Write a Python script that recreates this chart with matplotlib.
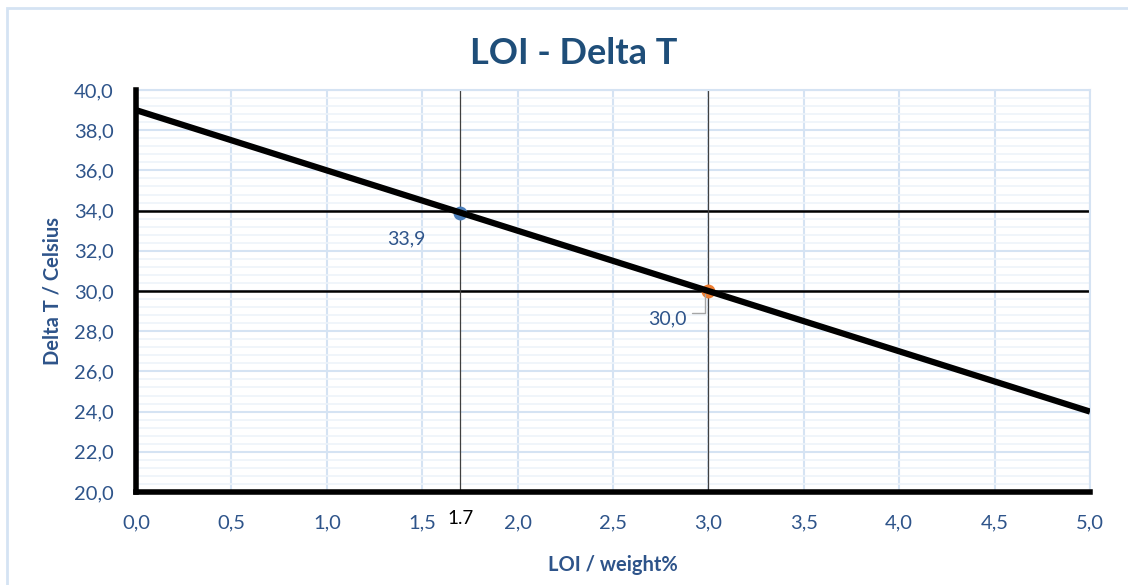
import matplotlib.pyplot as plt
from matplotlib.patches import Rectangle
from matplotlib.ticker import MultipleLocator, FuncFormatter

# data
line_x = [0.0, 5.0]
line_y = [39.0, 24.0]
pt_x = [1.7, 3.0]
pt_y = [33.9, 30.0]
pt_colors = ['#4A7EBB', '#ED7D31']
pt_labels = ['33,9', '30,0']
hlines_y = [34.0, 30.0]
vlines_x = [1.7, 3.0]

blue = '#2E548A'
plt.rcParams['font.family'] = ['Lato', 'DejaVu Sans']

fig = plt.figure(figsize=(11.28, 5.85), dpi=100)
ax = fig.add_axes([136/1128, 1-492/585, (1090-136)/1128, (492-90)/585])

# outer chart border (light blue)
fig.patches.append(Rectangle((7/1128, -0.1), 1.2, 1-8/585+0.1, transform=fig.transFigure,
                             fill=False, edgecolor='#D5E3F3', linewidth=2))

ax.set_xlim(0, 5)
ax.set_ylim(20, 40)
ax.xaxis.set_major_locator(MultipleLocator(0.5))
ax.yaxis.set_major_locator(MultipleLocator(2))
ax.yaxis.set_minor_locator(MultipleLocator(0.4))
fmt = FuncFormatter(lambda v, p: ('%.1f' % v).replace('.', ','))
ax.xaxis.set_major_formatter(fmt)
ax.yaxis.set_major_formatter(fmt)

ax.grid(which='major', color='#D5E3F3', linewidth=1.5, zorder=0)
ax.grid(which='minor', axis='y', color='#EDF3FA', linewidth=1.2, zorder=0)
ax.tick_params(which='both', length=0)
ax.tick_params(axis='both', labelsize=14.5, labelcolor=blue)
ax.tick_params(axis='x', pad=16)
ax.tick_params(axis='y', pad=16)

for s in ['top', 'right']:
    ax.spines[s].set_color('#D5E3F3')
    ax.spines[s].set_linewidth(1.5)
for s in ['left', 'bottom']:
    ax.spines[s].set_color('black')
    ax.spines[s].set_linewidth(4)
    ax.spines[s].set_zorder(5)

for y in hlines_y:
    ax.axhline(y, color='black', linewidth=1.8, zorder=2)
for x in vlines_x:
    ax.axvline(x, color='#404040', linewidth=0.9, zorder=2)

for x, y, c in zip(pt_x, pt_y, pt_colors):
    ax.plot(x, y, 'o', color=c, markersize=9, zorder=3)

ax.plot(line_x, line_y, color='black', linewidth=4.5, zorder=4, solid_capstyle='butt')

ax.annotate(pt_labels[0], (pt_x[0], pt_y[0]), xytext=(-39, -19), textcoords='offset points',
            fontsize=14, color=blue, ha='center', va='center')
ax.annotate(pt_labels[1], (pt_x[1], pt_y[1]), xytext=(-29.5, -20), textcoords='offset points',
            fontsize=14, color=blue, ha='center', va='center')
# leader line for second label
ax.annotate('', (pt_x[1] - 0.02, pt_y[1]), xytext=(-11, -16), textcoords='offset points',
            arrowprops=dict(arrowstyle='-', color='#A6A6A6', linewidth=1,
                            connectionstyle='angle,angleA=0,angleB=90,rad=0'))

ax.annotate('1.7', (vlines_x[0], 20), xytext=(0, -19), textcoords='offset points',
            fontsize=13.5, color='black', ha='center', va='center')

fig.text(574/1128, 1-54/585, 'LOI - Delta T', fontsize=26, fontweight='bold',
         color='#1F4E79', ha='center', va='center')
ax.set_xlabel('LOI / weight%', fontsize=14.5, fontweight='bold', color=blue, labelpad=17)
ax.set_ylabel('Delta T / Celsius', fontsize=14.5, fontweight='bold', color=blue, labelpad=8)

fig.savefig('out.png', dpi=100)
